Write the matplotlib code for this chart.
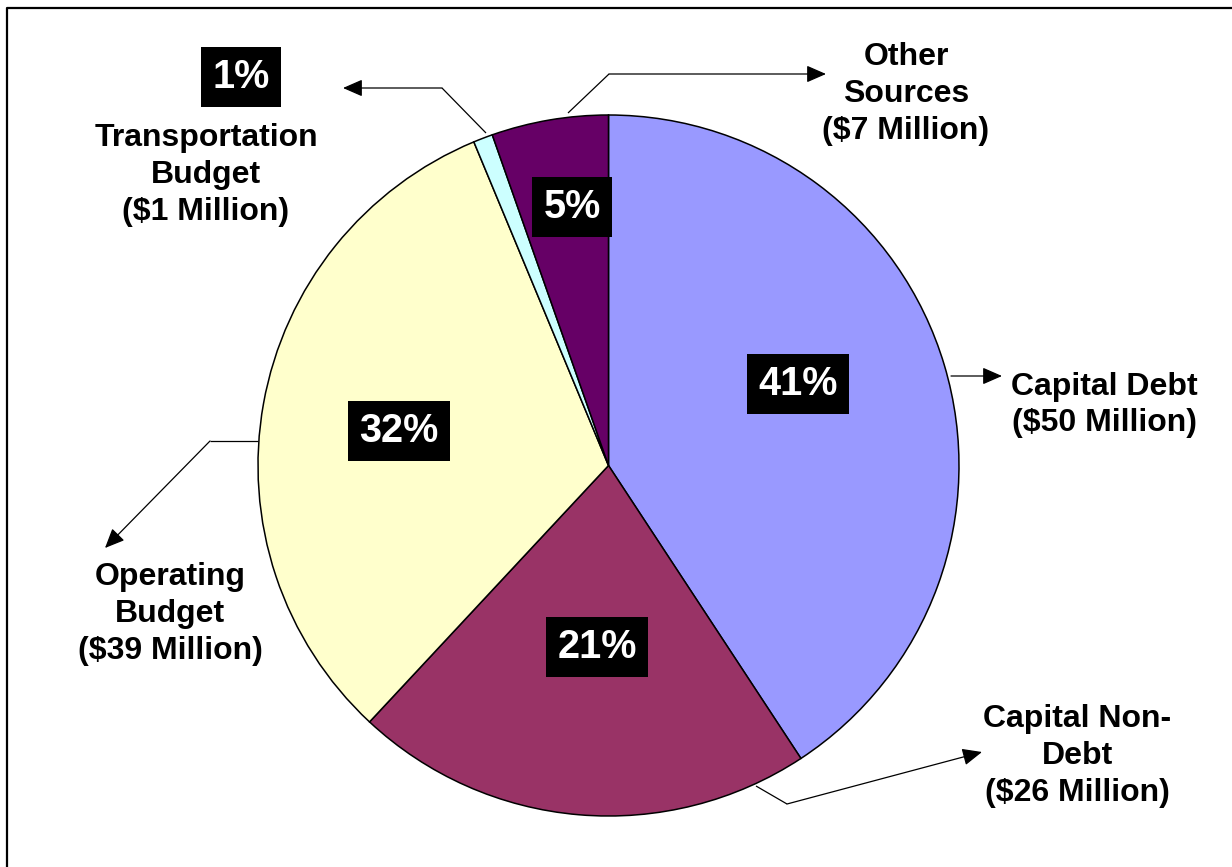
import matplotlib.pyplot as plt

# funding sources, millions of dollars
names = ["Capital Debt", "Capital Non-\nDebt", "Operating\nBudget",
         "Transportation\nBudget", "Other\nSources"]
amounts = [50, 26, 39, 1.1, 6.6]
colors = ["#9999FF", "#993366", "#FFFFCC", "#CCFFFF", "#660066"]

W, H = 1232, 867


def px(x, y):
    # pixel position (y from the top) -> data coords
    return x, H - y


fig = plt.figure(figsize=(W / 100, H / 100), dpi=100)
ax = fig.add_axes([0, 0, 1, 1])

wedges, _ = ax.pie(amounts, colors=colors, startangle=90, counterclock=False,
                   center=px(608.5, 465.5), radius=350.5,
                   wedgeprops=dict(edgecolor="black", linewidth=1.1))
ax.set_xlim(0, W)
ax.set_ylim(0, H)
ax.set_aspect("equal")
ax.axis("off")

total = sum(amounts)
font = "Liberation Sans"

# percentage boxes
pct_pos = [(798, 384), (597, 647), (399, 431), (241, 77), (572, 207)]
for a, p in zip(amounts, pct_pos):
    ax.text(*px(*p), f"{round(100 * a / total)}%", ha="center", va="center",
            fontsize=28.5, fontweight="bold", family=font, color="white",
            bbox=dict(boxstyle="square,pad=0.28", fc="black", ec="none"))

# category labels
name_pos = [(1104, 405), (1077, 756), (170, 614), (206, 175), (906, 94)]
for n, a, p in zip(names, amounts, name_pos):
    ax.text(*px(*p), f"{n}\n(${round(a)} Million)", ha="center", va="center",
            multialignment="center", fontsize=23, fontweight="bold",
            family=font, color="black", linespacing=1.3)

# leader lines: polyline, last segment ends in an arrow
leaders = [
    [(951, 376), (1002, 376)],
    [(756, 786), (787, 804), (982, 752)],
    [(258, 441), (210, 441), (105, 548)],
    [(486, 133), (442, 88), (343, 88)],
    [(568, 113), (609, 74), (826, 74)],
]
for pts in leaders:
    xy = [px(*q) for q in pts]
    if len(xy) > 2:
        ax.plot([q[0] for q in xy[:-1]], [q[1] for q in xy[:-1]],
                color="black", lw=0.9, solid_capstyle="butt")
    ax.annotate("", xy=xy[-1], xytext=xy[-2],
                arrowprops=dict(arrowstyle="-|>,head_length=0.8,head_width=0.35",
                                mutation_scale=15, color="black", lw=0.9,
                                shrinkA=0, shrinkB=0))

# chart border (runs off the right and bottom edges)
ax.plot([6.5, 6.5, W + 5], [-5, H - 7.5, H - 7.5], color="black", lw=1.6,
        clip_on=False)

fig.savefig("out.png", dpi=100, facecolor="white")
